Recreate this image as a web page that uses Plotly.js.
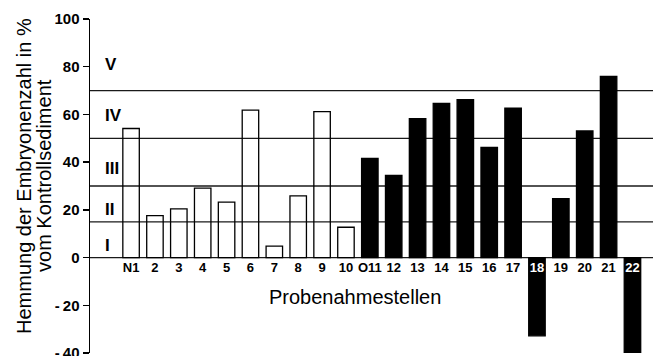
<!DOCTYPE html>
<html>
<head>
<meta charset="utf-8">
<script src="https://cdn.plot.ly/plotly-3.0.1.min.js"></script>
<style>html,body{margin:0;padding:0;background:#fff;}#chart{width:656px;height:356px;}</style>
</head>
<body>
<div id="chart"></div>
<script>
// Sampling sites (categories)
const sites = ['N1','2','3','4','5','6','7','8','9','10','O11','12','13','14','15','16','17','18','19','20','21','22'];
// Inhibition of embryo count in % relative to control sediment
const inhibition = [54.1, 17.6, 20.4, 29.1, 23.2, 61.8, 4.8, 25.9, 61.2, 12.7, 41.6, 34.4, 58.2, 64.6, 66.2, 46.2, 62.6, -32.8, 24.7, 53.1, 75.9, -39.8];
// Group: open bars (N1-10) vs filled bars (O11-22)
const group = ['open','open','open','open','open','open','open','open','open','open','filled','filled','filled','filled','filled','filled','filled','filled','filled','filled','filled','filled'];
// Class boundaries (%) and class labels
const classBounds = [0, 15, 30, 50, 70];
const classLabels = ['I','II','III','IV','V'];
const classLabelY = [5, 20, 37.5, 59.5, 81];
// Y-axis ticks
const yTickVals = [-40, -20, 0, 20, 40, 60, 80, 100];
const yTickText = ['-\u200940', '-\u200920', '0', '20', '40', '60', '80', '100'];

const barColors = group.map(g => g === 'open' ? 'rgba(255,255,255,0)' : '#000');
const xTickText = sites.map((s, i) => inhibition[i] < 0 ? '<span style="color:white">' + s + '</span>' : s);

const trace = {
  type: 'bar',
  x: sites,
  y: inhibition,
  width: 0.69,
  marker: { color: barColors, line: { color: '#000', width: 1.3 } },
  hoverinfo: 'x+y'
};

const shapes = classBounds.map(v => ({
  type: 'line', xref: 'paper', yref: 'y', x0: 0, x1: 1, y0: v, y1: v,
  line: { color: '#1a1a1a', width: 1.3 }, layer: 'below'
}));

const annotations = classLabels.map((t, i) => ({
  text: t, xref: 'paper', yref: 'y', x: 0.023, y: classLabelY[i],
  xanchor: 'left', yanchor: 'middle', showarrow: false,
  font: { family: 'Liberation Sans, Arial, sans-serif', size: 17, color: '#000', weight: 700 }
}));

annotations.push({
  text: 'Hemmung der Embryonenzahl in %', xref: 'paper', yref: 'paper',
  x: 0, y: 0.53, xshift: -66, xanchor: 'center', yanchor: 'middle',
  textangle: -90, showarrow: false,
  font: { family: 'Liberation Sans, Arial, sans-serif', size: 20, color: '#000' }
});
annotations.push({
  text: 'vom Kontrollsediment', xref: 'paper', yref: 'paper',
  x: 0, y: 0.53, xshift: -46, xanchor: 'center', yanchor: 'middle',
  textangle: -90, showarrow: false,
  font: { family: 'Liberation Sans, Arial, sans-serif', size: 20, color: '#000' }
});
annotations.push({
  text: 'Probenahmestellen', xref: 'paper', yref: 'paper',
  x: 0.4707, y: 0.1677, xanchor: 'center', yanchor: 'middle', showarrow: false,
  font: { family: 'Liberation Sans, Arial, sans-serif', size: 20, color: '#000' }
});

const layout = {
  width: 656, height: 356,
  margin: { l: 90, r: 3, t: 19, b: 3, pad: 0 },
  paper_bgcolor: '#fff', plot_bgcolor: '#fff',
  showlegend: false,
  bargap: 0,
  xaxis: {
    type: 'category',
    range: [-1.72, 21.86],
    tickvals: sites, ticktext: xTickText,
    anchor: 'free', position: 40 / 140,
    showline: false, showgrid: false, zeroline: false, ticks: '',
    tickfont: { family: 'Liberation Sans, Arial, sans-serif', size: 13, color: '#000', weight: 700 },
    fixedrange: true
  },
  yaxis: {
    range: [-40, 100],
    tickvals: yTickVals, ticktext: yTickText,
    ticklabeloverflow: 'allow',
    showline: true, linecolor: '#000', linewidth: 1.5,
    ticks: 'outside', ticklen: 6, tickwidth: 1.5, tickcolor: '#000',
    showgrid: false, zeroline: false,
    tickfont: { family: 'Liberation Sans, Arial, sans-serif', size: 15, color: '#000', weight: 700 },
    fixedrange: true
  },
  shapes: shapes,
  annotations: annotations
};

Plotly.newPlot('chart', [trace], layout, { displayModeBar: false, staticPlot: true });
</script>
</body>
</html>
